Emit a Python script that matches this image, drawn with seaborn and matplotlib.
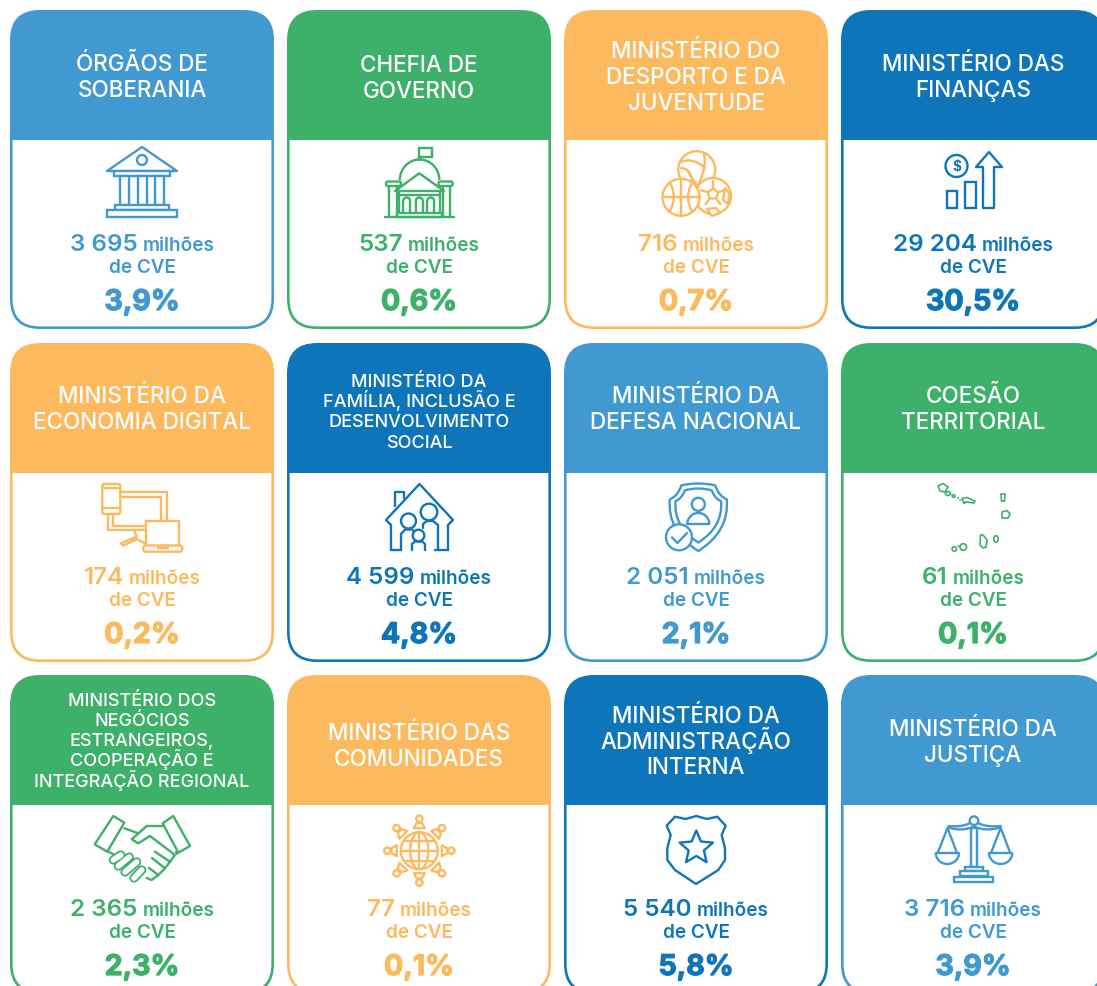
import numpy as np
import matplotlib
matplotlib.use("Agg")
import matplotlib.pyplot as plt
import matplotlib.patheffects as pe
from matplotlib.transforms import Affine2D
import seaborn as sns
from matplotlib.patches import FancyBboxPatch, Rectangle, Circle, Ellipse, Polygon, Arc, PathPatch
from matplotlib.path import Path

titles = [
    "ÓRGÃOS DE\nSOBERANIA", "CHEFIA DE\nGOVERNO", "MINISTÉRIO DO\nDESPORTO E DA\nJUVENTUDE",
    "MINISTÉRIO DAS\nFINANÇAS", "MINISTÉRIO DA\nECONOMIA DIGITAL",
    "MINISTÉRIO DA\nFAMÍLIA, INCLUSÃO E\nDESENVOLVIMENTO\nSOCIAL", "MINISTÉRIO DA\nDEFESA NACIONAL",
    "COESÃO\nTERRITORIAL",
    "MINISTÉRIO DOS\nNEGÓCIOS\nESTRANGEIROS,\nCOOPERAÇÃO E\nINTEGRAÇÃO REGIONAL",
    "MINISTÉRIO DAS\nCOMUNIDADES", "MINISTÉRIO DA\nADMINISTRAÇÃO\nINTERNA", "MINISTÉRIO DA\nJUSTIÇA",
]
values = [3695, 537, 716, 29204, 174, 4599, 2051, 61, 2365, 77, 5540, 3716]
shares = [3.9, 0.6, 0.7, 30.5, 0.2, 4.8, 2.1, 0.1, 2.3, 0.1, 5.8, 3.9]
color_keys = ["b", "g", "o", "d", "o", "d", "b", "g", "g", "o", "d", "b"]
unit = "milhões"
unit2 = "de CVE"

sns.set_theme(style="white")
plt.rcParams["font.family"] = ["Inter", "DejaVu Sans"]
pal = dict(zip("bgod", sns.color_palette(["#4199D1", "#3DB06A", "#FDB95E", "#0F75BB"])))

W, H = 1097, 986
fig = plt.figure(figsize=(W / 100, H / 100), dpi=100, facecolor="white")
ax = fig.add_axes([0, 0, 1, 1])
ax.set_xlim(0, W)
ax.set_ylim(H, 0)
ax.axis("off")

X0 = [10, 287, 564, 841]
Y0 = [10, 343, 675]
CW, CH, HH, R, B = 264, 319, 130, 30, 2.6
LW = 1.7


def ln(xs, ys, c, lw=LW, z=5):
    ax.plot(xs, ys, color=c, lw=lw, zorder=z, solid_capstyle="round", solid_joinstyle="round")


def rect(x0, y0, x1, y1, c, z=5, r=0.0):
    if r:
        p = FancyBboxPatch((x0 + r, y0 + r), x1 - x0 - 2 * r, y1 - y0 - 2 * r,
                           boxstyle=f"round,pad={r},rounding_size={r}", fc="white", ec=c, lw=LW, zorder=z)
    else:
        p = Rectangle((x0, y0), x1 - x0, y1 - y0, fc="white", ec=c, lw=LW, zorder=z)
    ax.add_patch(p)


def circ(x, y, r, c, z=5, lw=LW):
    ax.add_patch(Circle((x, y), r, fc="white", ec=c, lw=lw, zorder=z))


def poly(pts, c, z=5, closed=True, fc="white", lw=LW):
    ax.add_patch(Polygon(pts, closed=closed, fc=fc, ec=c, lw=lw, zorder=z, joinstyle="round"))


def arc(x, y, w, h, a0, a1, c, z=6, lw=LW):
    ax.add_patch(Arc((x, y), w, h, theta1=a0, theta2=a1, ec=c, lw=lw, zorder=z))


def q(p0, ctrl, p1, c, z=6, lw=LW):
    ax.add_patch(PathPatch(Path([p0, ctrl, p1], [Path.MOVETO, Path.CURVE3, Path.CURVE3]),
                           fc="none", ec=c, lw=lw, zorder=z, capstyle="round"))


def capsule(p, q_, w, c, z=6):
    ln([p[0], q_[0]], [p[1], q_[1]], c, lw=(w + 1.8) * 0.72, z=z)
    ln([p[0], q_[0]], [p[1], q_[1]], "white", lw=(w - 1.8) * 0.72, z=z + 0.1)


def bank(c):
    poly([(142, 147), (107, 171), (177, 171)], c)
    circ(142, 160, 5, c)
    rect(114, 171, 170, 176, c)
    for x in (120, 137.5, 155):
        rect(x, 176, x + 9, 205, c)
    rect(115, 205, 169, 210, c)
    rect(107, 210, 177, 217, c)


def capitol(c):
    rect(418.5, 148.3, 431.5, 156.7, c)
    ln([419.3, 419.3], [156.7, 160], c)
    arc(419.6, 180, 39.5, 41, 180, 360, c, z=4)
    rect(386, 181.5, 401, 186, c, r=1.8)
    rect(438.5, 181.5, 452.7, 186, c, r=1.8)
    for x in (389.3, 396.7, 443.3, 450):
        ln([x, x], [186, 216.7], c)
    poly([(419.3, 173.3), (395, 191), (444, 191)], c, z=6)
    ln([399.3, 440], [194.5, 194.5], c)
    ln([399.3, 399.3], [191, 212.7], c)
    ln([439.5, 439.5], [191, 212.7], c)
    for x in (406.7, 419.3, 430.7):
        ln([x - 3.5, x - 3.5], [212.7, 201], c)
        ln([x + 3.5, x + 3.5], [212.7, 201], c)
        arc(x, 201, 7, 7, 180, 360, c)
    rect(397.3, 212.7, 441.7, 216.7, c)
    ln([385, 454], [216.9, 216.9], c)


def balls(c):
    circ(696.7, 169.7, 18.5, c, z=4)
    q((679, 163), (692, 156), (705, 168), c, z=4.5)
    q((704, 154), (707, 166), (699, 183), c, z=4.5)
    q((681, 168), (690, 168), (692, 180), c, z=4.5)
    q((688, 171), (692, 180), (698, 186), c, z=4.5)
    sx, sy = 713, 196
    circ(sx, sy, 18, c, z=5)
    pent = [(sx + 5.5 * np.cos(a), sy - 2 + 5.5 * np.sin(a)) for a in np.linspace(-np.pi / 2, 1.5 * np.pi, 6)[:-1]]
    poly(pent, c, z=5.5)
    for (x, y) in pent:
        dx, dy = x - sx, y - sy + 2
        ln([x, x + dx * 1.3], [y, y + dy * 1.3], c, z=5.5)
    poly([(707, 209), (716, 208), (720, 213), (712, 216)], c, z=5.5)
    poly([(725, 188), (730, 194), (728, 204), (723, 200)], c, z=5.5)
    circ(681, 197.3, 18.5, c, z=6)
    ln([681, 681], [179, 215.8], c, z=6.5)
    ln([662.5, 699.5], [197.3, 197.3], c, z=6.5)
    q((670, 183), (678, 197), (670, 211), c, z=6.5)
    q((692, 183), (684, 197), (692, 211), c, z=6.5)


def finance(c):
    circ(956.5, 166, 11, c)
    ax.text(956.5, 166.5, "$", color=c, fontsize=10, ha="center", va="center", zorder=6, fontweight="bold")
    rect(947, 191, 957, 208, c)
    rect(965, 181.5, 976, 208, c)
    poly([(983, 208), (983, 167), (976, 167), (989, 152), (1002, 167), (994, 167), (994, 208)], c)


def devices(c):
    ln([120.3, 166.7, 166.7], [491.7, 491.7, 521], c)
    ln([120.3, 160.7, 160.7], [496.7, 496.7, 521], c)
    ln([107.7, 107.7, 146], [514, 530, 530], c)
    ln([113.3, 113.3, 146], [514, 525.7, 525.7], c)
    ln([134.3, 136.7, 121, 123, 136.7, 145], [531, 536.7, 543.3, 545.7, 539.3, 543.3], c)
    rect(102.3, 484, 120.3, 514, c, r=2)
    ln([102.5, 120], [488, 488], c)
    ln([102.5, 120], [507.5, 507.5], c)
    rect(145.7, 520.7, 179.3, 545.5, c)
    rect(143.3, 545.5, 182.3, 551.7, c, z=6, r=2.5)
    ln([157.7, 157.7, 167.7, 167.7], [546, 548, 548, 546], c, z=7)


def house(c):
    ln([395, 395, 404, 404], [506, 492, 492, 498], c)
    ln([391, 386, 419.5, 453, 448], [525, 520, 484, 520, 525], c)
    ln([391, 391, 401], [525, 550, 550], c)
    ln([448, 448, 435], [525, 550, 550], c)
    circ(408.5, 521, 7.5, c)
    circ(429, 512, 8.3, c)
    ln([401, 401, 405, 412, 416], [550, 534, 529.5, 529.5, 533], c)
    ln([423, 423, 427, 433, 438, 438], [528, 524, 521, 521, 525, 550], c, z=4)
    ln([412, 412], [550, 544], c, z=6)
    ln([425, 425], [550, 544], c, z=6)
    ln([412, 415, 422, 425], [544, 541.5, 541.5, 544], c, z=6)
    circ(418.5, 535.5, 5.8, c, z=6)


def shield(c):
    cx = 698.3
    for s, top, z in ((1.0, 483.5, 4), (0.8, 488.5, 4.5)):
        half = [(cx, top), (cx - 10 * s, top), (cx - 17 * s, top + 2), (cx - 20 * s, top + 12 * s),
                (cx - 28.5 * s, top + 16 * s), (cx - 31 * s, top + 48 * s), (cx, top + 67.5 * s)]
        mirror = [(2 * cx - x, y) for x, y in half[-2::-1]]
        v = half + mirror
        codes = [Path.MOVETO] + [Path.CURVE3] * (len(v) - 1)
        ax.add_patch(PathPatch(Path(v, codes), fc="white", ec=c, lw=LW, zorder=z))
    circ(cx, 504.3, 6.5, c)
    ax.add_patch(PathPatch(Path.arc(180, 360).transformed(Affine2D().scale(11, 11).translate(cx, 524)),
                           fc="white", ec=c, lw=LW, zorder=5))
    ln([cx - 11, cx + 11], [524, 524], c, z=5)
    circ(679, 537.3, 13, c, z=6)
    ln([672, 677.5, 687], [537.5, 543, 533], c, z=7)


def islands(c):
    lw = 1.2
    z = 5
    poly([(938, 486), (943, 483.5), (948, 487), (945, 492), (940, 491)], c, lw=lw)
    ax.add_patch(Ellipse((948, 493.5), 5, 4, fc="white", ec=c, lw=lw, zorder=z))
    ax.add_patch(Ellipse((953.5, 496), 3, 2.5, fc="white", ec=c, lw=lw, zorder=z))
    ax.add_patch(Ellipse((958, 498), 1.2, 1.2, fc=c, ec=c, lw=0.5, zorder=z))
    ax.add_patch(Ellipse((960, 500), 1, 1, fc=c, ec=c, lw=0.5, zorder=z))
    poly([(962, 498.5), (967, 497.5), (975, 501), (974, 503), (966, 502), (964, 503.5)], c, lw=lw)
    poly([(1001, 494), (1005, 494), (1004.5, 501), (1001.5, 501)], c, lw=lw)
    poly([(1002, 512), (1007, 510.5), (1010, 514), (1008, 518), (1002, 518)], c, lw=lw)
    poly([(980.5, 535), (983, 535), (987, 540), (986, 547), (983, 548), (980, 545)], c, lw=lw)
    ax.add_patch(Ellipse((996, 539), 4.5, 6.5, fc="white", ec=c, lw=lw, zorder=z))
    ax.add_patch(Circle((963.3, 547), 3.3, fc="white", ec=c, lw=lw, zorder=z))
    ax.add_patch(Circle((954.3, 549), 2.2, fc="white", ec=c, lw=lw, zorder=z))
    ax.add_patch(Circle((958.5, 546), 0.6, fc=c, ec=c, lw=0.5, zorder=z))


def handshake(c):
    for pts in ([(113.3, 816), (124.3, 822.7), (107.3, 851.7), (94.7, 844.3)],
                [(173.3, 816), (162.7, 823.3), (178.3, 852.7), (190, 846)]):
        poly(pts, c, z=7)
    ln([124.3, 138.3], [828.3, 833.3], c)
    ln([162.7, 146.7, 131.7, 138.3, 150, 175, 170, 155],
       [826, 826, 839.3, 843.3, 836, 855, 861.7, 851.7], c, z=6)
    ln([170, 165, 152], [861.7, 868.3, 858], c, z=6)
    ln([165, 158.3, 149], [868.3, 875, 868], c, z=6)
    ln([158.3, 151.7, 146.7], [875, 880, 878], c, z=6)
    ln([176, 177], [852, 854], c, z=6)
    ln([107, 113], [851, 854], c, z=5)
    for p, p2 in (((113.3, 860), (120.7, 855)), ((118.3, 866), (129.3, 857)),
                  ((125, 872), (136.7, 862)), ((134, 878), (141.7, 870))):
        capsule(p, p2, 7.5, c)


def globe(c):
    cx, cy, r = 419.3, 850.7, 18.5
    circ(cx, cy, r, c)
    ax.add_patch(Ellipse((cx, cy), 18, 2 * r, fc="none", ec=c, lw=LW, zorder=6))
    ln([cx, cx], [cy - r, cy + r], c, z=6)
    ln([cx - r, cx + r], [cy, cy], c, z=6)
    for d in (-10, 10):
        hw = np.sqrt(r ** 2 - d ** 2)
        ln([cx - hw, cx + hw], [cy + d, cy + d], c, z=6)
    for a in np.deg2rad(np.arange(0, 360, 45)):
        u = np.array([np.cos(a), np.sin(a)])
        n = np.array([-u[1], u[0]])
        o = np.array([cx, cy])
        circ(*(o + 32 * u), 3.2, c)
        b0, b1 = o + 22.5 * u, o + 27.8 * u
        poly([b0 + 5.5 * n, b0 - 5.5 * n, b1 - 2.5 * n, b1 + 2.5 * n], c)


def badge(c):
    p = [(666.7, 825.7), (675, 816.7), (685.7, 819), (696.3, 816), (707, 819), (717.3, 816.7), (725.7, 825.7),
         (721.7, 835), (725, 848.3), (725, 860), (718.3, 870), (696, 884), (675, 870), (667.3, 860), (667.3, 848.3),
         (670.7, 835)]
    poly(p, c)
    star = []
    for k in range(10):
        rr = 17.5 if k % 2 == 0 else 8
        a = -np.pi / 2 + k * np.pi / 5
        star.append((696.3 + rr * np.cos(a), 848 + rr * np.sin(a)))
    poly(star, c)


def scales(c):
    rect(970.7, 828, 977.3, 867, c)
    q((948.3, 827.5), (962, 832), (974, 826.5), c)
    q((974, 826.5), (986, 832), (1000.7, 827.5), c)
    q((948.3, 826), (962, 827.5), (970, 823), c)
    q((978, 823), (986, 827.5), (1000.7, 826), c)
    circ(974, 820.7, 4.3, c, z=6)
    for x0, x1, xt in ((935.7, 959, 947.5), (989, 1012.3, 1000.7)):
        ln([x0 + 2, xt, x1 - 2], [853, 828, 853], c)
        ax.add_patch(PathPatch(Path.arc(0, 180).transformed(
            Affine2D().scale((x1 - x0) / 2, 11).translate((x0 + x1) / 2, 853)),
            fc="white", ec=c, lw=LW, zorder=5))
        ln([x0, x1], [853, 853], c)
    rect(965, 866.7, 983.3, 870.7, c)
    rect(960, 870.7, 988, 876, c)
    rect(954.3, 876.5, 993.3, 882.3, c)


icons = [bank, capitol, balls, finance, devices, house, shield, islands, handshake, globe, badge, scales]
title_mid = [76, 77, 76, 76, 408, 411, 408, 408, 740, 745, 741, 741]
BIG, SMALL = 16.2, 13.0

renderer = fig.canvas.get_renderer()

for i in range(12):
    r, k = i // 4, i % 4
    x, y = X0[k], Y0[r]
    c = pal[color_keys[i]]
    cx = x + CW / 2
    ax.add_patch(FancyBboxPatch((x + R, y + R), CW - 2 * R, CH - 2 * R,
                                boxstyle=f"round,pad={R},rounding_size={R}", fc=c, ec="none", zorder=1))
    clip = Rectangle((x, y + HH), CW, CH - HH, transform=ax.transData)
    ir = R - B
    inner = FancyBboxPatch((x + B + ir, y + B + ir), CW - 2 * B - 2 * ir, CH - 2 * B - 2 * ir,
                           boxstyle=f"round,pad={ir},rounding_size={ir}", fc="white", ec="none", zorder=2)
    ax.add_patch(inner)
    inner.set_clip_path(clip)

    lines = titles[i].split("\n")
    small = len(lines) > 3
    fs = SMALL if small else BIG
    step = 20.2 if small else 25.7
    cap = 12.6 if small else 15.6
    top = title_mid[i] - step * (len(lines) - 1) / 2
    for j, s in enumerate(lines):
        ax.text(cx, top + j * step + cap / 2, s, color="white", fontsize=fs, ha="center", va="baseline",
                fontweight="medium", zorder=8)

    icons[i](c)

    base = y + 241
    t1 = ax.text(0, base, f"{values[i]:,}".replace(",", " "), color=c, fontsize=17.4, fontweight="semibold",
                 ha="left", va="baseline", zorder=8)
    t2 = ax.text(0, base, unit, color=c, fontsize=13.6, fontweight="semibold", ha="left", va="baseline", zorder=8)
    w1 = t1.get_window_extent(renderer).width
    w2 = t2.get_window_extent(renderer).width
    gap = 5
    left = cx - (w1 + gap + w2) / 2
    t1.set_x(left)
    t2.set_x(left + w1 + gap)
    ax.text(cx, y + 263, unit2, color=c, fontsize=13.6, fontweight="semibold", ha="center", va="baseline", zorder=8)
    pct = ax.text(cx, y + 300, f"{shares[i]:.1f}".replace(".", ",") + "%", color=c, fontsize=20.5, fontweight="bold",
                  ha="center", va="baseline", zorder=8)
    pct.set_path_effects([pe.withStroke(linewidth=0.9, foreground=c)])

fig.savefig("out.png", dpi=100, facecolor="white")
